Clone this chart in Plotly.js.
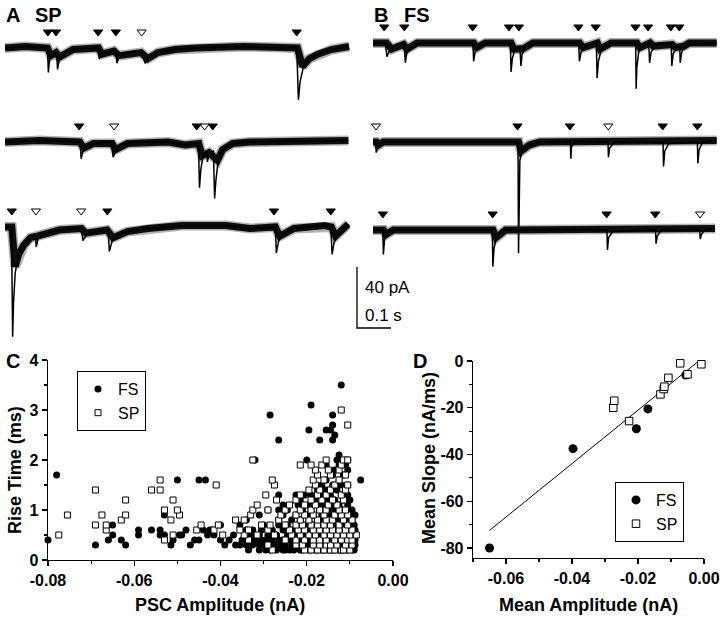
<!DOCTYPE html>
<html>
<head>
<meta charset="utf-8">
<script src="https://cdn.plot.ly/plotly-3.0.1.min.js"></script>
<style>html,body{margin:0;padding:0;background:#fff}#chart{width:720px;height:618px}</style>
</head>
<body>
<div id="chart"></div>
<script>
// ---------------- DATA ----------------
// Panel A (SP) and B (FS) current traces: [time ms, current pA]
const traceA1 = [[0,0],[60,1],[122,0],[125,0],[127.5,-16],[131,-8],[137,-5],[145,-4],[152,-3],[154.5,-14],[160,-7],[175,-3],[200,-1],[240,0],[272,0],[274,1],[277,-7],[285,-4],[310,-2],[326,-1],[329,-10],[336,-5],[360,-3],[395,-2],[403,-4],[412,-10],[425,-6],[450,-3],[490,-1],[560,0],[700,1],[800,0],[858,0],[863,-34],[868,-22],[878,-12],[895,-7],[920,-4],[960,-1],[1012,1]];
const traceA2 = [[0,0],[100,1],[218,0],[221,0],[224,-11],[230,-5],[245,-2],[290,0],[313,0],[318,-10],[325,-6],[340,-2],[380,0],[480,0],[530,-2],[569,-1],[572,-30],[576,-18],[582,-10],[590,-6],[593,-6],[595.5,-13],[599,-9],[604,-7],[613,-6],[616.5,-37],[620,-26],[626,-14],[636,-6],[660,-2],[700,0],[1010,1]];
const traceA3 = [[0,0],[19,0],[22.5,-72],[25,-50],[30,-30],[40,-18],[55,-12],[75,-7],[89,-5],[92,-13],[98,-7],[120,-4],[160,-2],[200,-1],[225,-1],[229,-9],[240,-5],[270,-3],[303,-2],[307,-16],[315,-9],[330,-5],[360,-3],[420,-1],[520,1],[650,1],[720,-1],[795,0],[798,-17],[805,-9],[820,-4],[850,-1],[940,1],[958,1],[962,-18],[968,-10],[980,-5],[995,-1],[1010,2]];
const traceB1 = [[0,0],[36,0],[41,-9],[48,-5],[70,-1],[92,0],[95,-13],[99,-7],[110,-3],[140,0],[294,0],[296,-12],[300,-6],[312,-2],[340,0],[404,0],[406,-19],[410,-10],[418,-4],[432,-2],[435,-15],[439,-7],[450,-2],[480,0],[605,0],[607,-12],[612,-6],[625,-2],[650,0],[657,0],[659,-23],[663,-12],[672,-4],[700,0],[772.5,0],[774,-30],[776,-16],[782,-5],[800,0],[811,0],[813.5,-13],[818,-6],[830,-1],[870,0],[877,0],[879,-15],[883,-7],[895,-2],[902,-2],[903.5,-13],[908,-6],[920,-1],[1011,0]];
const traceB2 = [[0,0],[8,0],[9.5,-7],[14,-3],[25,0],[426.5,0],[428,-73],[429.5,-30],[432,-12],[440,-5],[460,-2],[490,0],[580.5,0],[581.8,-11],[584,-3],[595,0],[691,0],[692.5,-10],[696,-4],[710,0],[853,0],[854.5,-16],[858,-6],[870,-1],[954,0],[955.5,-14],[959,-5],[970,0],[1011,1]];
const traceB3 = [[0,0],[29,0],[30.5,-16],[34,-6],[45,-1],[70,0],[351,0],[352.5,-24],[356,-12],[364,-4],[380,0],[688,0],[689.5,-13],[693,-5],[705,-1],[831,0],[832.5,-9],[836,-4],[848,0],[961,0],[962.5,-6],[966,-3],[975,0],[1006,1]];

// slow baseline / noise band of each trace
const bandA1 = [[0,0],[60,1],[125,0],[135,-5],[150,-3],[160,-6],[200,-1],[240,0],[275,0],[285,-4],[320,-2],[335,-5],[400,-3],[420,-7],[450,-3],[500,-1],[560,0],[700,1],[860,0],[875,-12],[895,-7],[920,-4],[960,-1],[1012,1]];
const bandA2 = [[0,0],[100,1],[220,0],[232,-4],[260,-1],[315,-1],[325,-5],[360,-1],[480,0],[530,-2],[570,-1],[580,-9],[600,-7],[625,-12],[640,-5],[670,-1],[720,0],[1010,1]];
const bandA3 = [[0,0],[20,0],[30,-26],[40,-18],[55,-12],[75,-7],[95,-6],[120,-4],[160,-2],[225,-1],[238,-4],[300,-2],[318,-7],[360,-3],[420,-1],[520,1],[650,1],[720,-1],[795,0],[808,-6],[850,-1],[940,1],[960,0],[972,-6],[995,-1],[1010,2]];
const bandB1 = [[0,0],[40,0],[55,-4],[90,-1],[100,-4],[130,0],[296,0],[305,-3],[330,0],[406,0],[414,-4],[440,-4],[470,0],[608,0],[618,-3],[660,0],[668,-4],[700,0],[776,0],[785,-3],[815,0],[825,-2],[880,-1],[890,-3],[915,-2],[930,0],[1011,0]];
const bandB2 = [[0,0],[10,0],[16,-2],[30,0],[428,0],[436,-6],[460,-2],[490,0],[1011,1]];
const bandB3 = [[0,0],[31,0],[38,-3],[60,0],[353,0],[362,-5],[390,0],[1006,1]];

// event markers (time ms) and whether open (1) or filled (0)
const marksA1 = [126,150,274,326,402,858];        const openA1 = [0,0,0,0,1,0];
const marksA2 = [218,321,564,587,611];            const openA2 = [0,1,0,1,0];
const marksA3 = [20,91,224,301,791,958];          const openA3 = [0,1,1,0,0,0];
const marksB1 = [33,92,293,400,429,604,655,772,809,876,901]; const openB1 = [0,0,0,0,0,0,0,0,0,0,0];
const marksB2 = [9,425,579,692,852,954];          const openB2 = [1,0,0,1,0,0];
const marksB3 = [29,352,687,830,962];             const openB3 = [0,0,0,0,1];

// scale bar: 40 pA, 0.1 s
const scaleT = [0,0,100];
const scaleI = [40,0,0];

// Panel C: rise time (ms) vs PSC amplitude (nA), grouped by rise time
const fsRows = [
 [0.2,[-0.0335,-0.031,-0.0295,-0.0285,-0.027,-0.0255,-0.025,-0.024,-0.023,-0.0215,-0.021,-0.0195,-0.019,-0.018,-0.0175,-0.0165,-0.016,-0.015,-0.0145,-0.0135,-0.0125,-0.012,-0.011,-0.0105,-0.0095,-0.009]],
 [0.3,[-0.069,-0.062,-0.0515,-0.047,-0.039,-0.0365,-0.0355,-0.034,-0.0325,-0.031,-0.030,-0.0285,-0.0275,-0.026,-0.025,-0.0235,-0.0225,-0.021,-0.0205,-0.0195,-0.018,-0.017,-0.016,-0.015,-0.014,-0.0125,-0.0115,-0.0105,-0.0095,-0.0088]],
 [0.4,[-0.080,-0.066,-0.063,-0.051,-0.046,-0.045,-0.040,-0.038,-0.035,-0.0335,-0.032,-0.0305,-0.0295,-0.028,-0.0265,-0.0255,-0.024,-0.023,-0.022,-0.0205,-0.0195,-0.0185,-0.0175,-0.016,-0.015,-0.0135,-0.0125,-0.011,-0.0098,-0.0088]],
 [0.5,[-0.065,-0.059,-0.054,-0.053,-0.0495,-0.049,-0.043,-0.0415,-0.037,-0.033,-0.031,-0.029,-0.027,-0.0245,-0.022,-0.021,-0.0195,-0.0175,-0.0165,-0.015,-0.0135,-0.012,-0.0105,-0.009]],
 [0.6,[-0.059,-0.056,-0.054,-0.048,-0.044,-0.0425,-0.042,-0.034,-0.0325,-0.0305,-0.028,-0.0255,-0.0235,-0.0215,-0.0195,-0.018,-0.0165,-0.0145,-0.013,-0.0115,-0.010,-0.0088]],
 [0.7,[-0.065,-0.040,-0.0355,-0.030,-0.0265,-0.0245,-0.022,-0.020,-0.0185,-0.017,-0.015,-0.0135,-0.012,-0.0105,-0.009]],
 [0.8,[-0.034,-0.0265,-0.0235,-0.0215,-0.0195,-0.0175,-0.016,-0.014,-0.0125,-0.011,-0.0095]],
 [0.9,[-0.053,-0.031,-0.0255,-0.0225,-0.020,-0.0185,-0.0165,-0.0145,-0.013,-0.0115,-0.010,-0.0088]],
 [1.0,[-0.029,-0.0265,-0.0245,-0.021,-0.019,-0.017,-0.015,-0.0135,-0.0115,-0.0095]],
 [1.1,[-0.0255,-0.022,-0.0195,-0.0165,-0.0145,-0.0125,-0.0105]],
 [1.2,[-0.0215,-0.018,-0.0155,-0.0135,-0.0115,-0.010]],
 [1.3,[-0.0265,-0.0225,-0.0205,-0.019,-0.0165,-0.0145,-0.012,-0.0105]],
 [1.4,[-0.0175,-0.0155,-0.013,-0.011]],
 [1.5,[-0.0165,-0.014,-0.012,-0.0105]],
 [1.6,[-0.050,-0.045,-0.0435,-0.0155,-0.0125,-0.0075]],
 [1.7,[-0.078,-0.014,-0.0115]],
 [1.8,[-0.0135,-0.0105]],
 [1.9,[-0.0155,-0.0125,-0.011]],
 [2.0,[-0.032,-0.020,-0.013,-0.0105]],
 [2.1,[-0.0125]],
 [2.4,[-0.0265,-0.017,-0.014]],
 [2.5,[-0.0135]],
 [2.6,[-0.0195,-0.0155,-0.0145]],
 [2.7,[-0.014]],
 [2.9,[-0.0285,-0.014]],
 [3.1,[-0.019]],
 [3.5,[-0.012]]
];
const spRows = [
 [0.2,[-0.028,-0.0205,-0.019,-0.0175,-0.016,-0.0145,-0.0135,-0.012,-0.0115,-0.010]],
 [0.3,[-0.029,-0.0225,-0.021,-0.0185,-0.017,-0.0155,-0.0145,-0.013,-0.011,-0.0095]],
 [0.4,[-0.053,-0.0335,-0.025,-0.0225,-0.0205,-0.0185,-0.017,-0.0155,-0.0135,-0.012,-0.0105,-0.0095]],
 [0.5,[-0.0775,-0.051,-0.0395,-0.0345,-0.0315,-0.0275,-0.0235,-0.0215,-0.0195,-0.018,-0.016,-0.0145,-0.013,-0.0115,-0.010,-0.0085]],
 [0.6,[-0.0665,-0.0455,-0.0415,-0.0355,-0.0335,-0.029,-0.024,-0.022,-0.0205,-0.0185,-0.017,-0.0155,-0.014,-0.0125,-0.011,-0.0095]],
 [0.7,[-0.069,-0.0665,-0.0445,-0.0405,-0.0305,-0.0285,-0.025,-0.0225,-0.021,-0.019,-0.0175,-0.016,-0.0145,-0.0125,-0.0105]],
 [0.8,[-0.063,-0.0515,-0.0365,-0.0345,-0.0265,-0.0215,-0.0195,-0.0175,-0.0155,-0.014,-0.0115,-0.0095]],
 [0.9,[-0.0755,-0.0675,-0.062,-0.0495,-0.033,-0.026,-0.0225,-0.0205,-0.0185,-0.016,-0.0135,-0.012,-0.0105]],
 [1.0,[-0.053,-0.050,-0.0325,-0.029,-0.025,-0.0215,-0.019,-0.017,-0.0155,-0.0125,-0.011]],
 [1.1,[-0.0315,-0.024,-0.0205,-0.018,-0.015,-0.013]],
 [1.2,[-0.062,-0.051,-0.027,-0.0225,-0.019,-0.0165,-0.014,-0.0115]],
 [1.3,[-0.0295,-0.0215,-0.0175,-0.0155,-0.012]],
 [1.4,[-0.069,-0.056,-0.054,-0.0195,-0.017,-0.0145,-0.011]],
 [1.5,[-0.041,-0.0275,-0.018,-0.0135,-0.0105]],
 [1.6,[-0.054,-0.028,-0.0185,-0.016,-0.0125]],
 [1.7,[-0.0175,-0.0145,-0.011]],
 [1.8,[-0.018,-0.015,-0.0125]],
 [1.9,[-0.0215,-0.019,-0.0165,-0.012]],
 [2.0,[-0.0325,-0.0155,-0.0115,-0.0105]],
 [2.7,[-0.0105]],
 [3.0,[-0.012]]
];
const cTickX = [-0.08,-0.06,-0.04,-0.02,0];
const cTickXText = ['-0.08','-0.06','-0.04','-0.02','0.00'];
const cTickY = [0,1,2,3,4];
const cTickYText = ['0','1','2','3','4'];

// Panel D: mean slope (nA/ms) vs mean amplitude (nA)
const fsAmpD = [-0.065,-0.0397,-0.0205,-0.017,-0.0055];
const fsSlopeD = [-80,-37.5,-29,-20.5,-6];
const spAmpD = [-0.0275,-0.0272,-0.0227,-0.0132,-0.0122,-0.012,-0.0108,-0.0072,-0.005,-0.0008];
const spSlopeD = [-20,-17,-25.7,-14.3,-12,-11,-7.2,-1,-5.7,-1.4];
const fitAmp = [-0.065,-0.001];
const fitSlope = [-72.5,0.7];
const dTickX = [-0.06,-0.04,-0.02,0];
const dTickXText = ['-0.06','-0.04','-0.02','0.00'];
const dTickY = [0,-20,-40,-60,-80];
const dTickYText = ['0','-20','-40','-60','-80'];

// ---------------- LAYOUT HELPERS ----------------
const W = 720, H = 618;
const FONT = 'Liberation Sans, Arial, Helvetica, sans-serif';
const xd = (a,b) => [a/W, b/W];
const yd = (top,bottom) => [1-bottom/H, 1-top/H];
const pxPerMs = 0.34, pxPerPA = 1.525, markLevel = 10.5;

const traces = [];
const layout = {
  width: W, height: H,
  margin: {l:0,r:0,t:0,b:0},
  paper_bgcolor: '#ffffff', plot_bgcolor: 'rgba(0,0,0,0)',
  font: {family: FONT, color: '#000'},
  showlegend: true,
  annotations: []
};

// ---- trace panels ----
const rows = [
  {data:traceA1, band:bandA1, marks:marksA1, open:openA1, x0:5,   yb:48},
  {data:traceA2, band:bandA2, marks:marksA2, open:openA2, x0:5,   yb:142},
  {data:traceA3, band:bandA3, marks:marksA3, open:openA3, x0:5,   yb:227},
  {data:traceB1, band:bandB1, marks:marksB1, open:openB1, x0:373, yb:43},
  {data:traceB2, band:bandB2, marks:marksB2, open:openB2, x0:373, yb:142},
  {data:traceB3, band:bandB3, marks:marksB3, open:openB3, x0:373, yb:230}
];
rows.forEach((r, k) => {
  const n = k + 3;
  const xa = 'x' + n, ya = 'y' + n;
  const tRange = 1015;
  layout['xaxis' + n] = {visible:false, range:[0,tRange], domain: xd(r.x0, r.x0 + tRange*pxPerMs), anchor: ya, fixedrange:true};
  layout['yaxis' + n] = {visible:false, range:[-120/pxPerPA, 40/pxPerPA], domain: yd(r.yb-40, r.yb+120), anchor: xa, fixedrange:true};
  const bx = r.band.map(p=>p[0]), by = r.band.map(p=>p[1]);
  traces.push({x:bx, y:by, xaxis:xa, yaxis:ya, mode:'lines', line:{color:'rgba(0,0,0,0.3)', width:10}, showlegend:false, hoverinfo:'skip'});
  traces.push({x:bx, y:by, xaxis:xa, yaxis:ya, mode:'lines', line:{color:'#0d0d0d', width:7}, showlegend:false, hoverinfo:'skip'});
  traces.push({x:r.data.map(p=>p[0]), y:r.data.map(p=>p[1]), xaxis:xa, yaxis:ya, mode:'lines',
    line:{color:'#000', width:1.5}, showlegend:false, hoverinfo:'skip'});
  traces.push({x:r.marks, y:r.marks.map(()=>markLevel), xaxis:xa, yaxis:ya, mode:'markers', cliponaxis:false,
    marker:{symbol:r.open.map(o=>o?'triangle-down-open':'triangle-down'), size:8, color:'#000', line:{color:'#000', width:1}},
    showlegend:false, hoverinfo:'skip'});
});

// scale bar subplot
layout.xaxis9 = {visible:false, range:[-7/pxPerMs, 43/pxPerMs], domain: xd(350,400), anchor:'y9', fixedrange:true};
layout.yaxis9 = {visible:false, range:[-7/pxPerPA, 68/pxPerPA], domain: yd(260,335), anchor:'x9', fixedrange:true};
traces.push({x:scaleT, y:scaleI, xaxis:'x9', yaxis:'y9', mode:'lines', line:{color:'#000', width:1.3}, showlegend:false, hoverinfo:'skip'});

// ---- axes style ----
function axis(extra) {
  return Object.assign({
    showline:true, linecolor:'#000', linewidth:1.3, mirror:false,
    ticks:'outside', ticklen:5, tickwidth:1.3, tickcolor:'#000',
    showgrid:false, zeroline:false, fixedrange:true,
    tickfont:{family:FONT, size:16, weight:700, color:'#000'},
    tickmode:'array'
  }, extra);
}
layout.xaxis = axis({range:[-0.08,0], domain:xd(48,393), anchor:'y', tickvals:cTickX, ticktext:cTickXText,
  minor:{tickmode:'array', tickvals:[-0.07,-0.05,-0.03,-0.01], ticks:'outside', ticklen:3, tickwidth:1.2, tickcolor:'#000'}});
layout.yaxis = axis({range:[0,4], domain:yd(360,560), anchor:'x', tickvals:cTickY, ticktext:cTickYText,
  minor:{tickmode:'array', tickvals:[0.5,1.5,2.5,3.5], ticks:'outside', ticklen:3, tickwidth:1.2, tickcolor:'#000'}});
layout.xaxis2 = axis({range:[-0.07,0], domain:xd(473,704), anchor:'y2', tickvals:dTickX, ticktext:dTickXText,
  minor:{tickmode:'array', tickvals:[-0.07,-0.05,-0.03,-0.01], ticks:'outside', ticklen:3, tickwidth:1.2, tickcolor:'#000'}});
layout.yaxis2 = axis({range:[-84.3,0], domain:yd(361,558), anchor:'x2', tickvals:dTickY, ticktext:dTickYText,
  minor:{tickmode:'array', tickvals:[-10,-30,-50,-70], ticks:'outside', ticklen:3, tickwidth:1.2, tickcolor:'#000'}});

// ---- panel C data ----
const flat = rows2 => { const xs=[], ys=[]; rows2.forEach(([rt, amps]) => amps.forEach(a => { xs.push(a); ys.push(rt); })); return [xs, ys]; };
const [fsX, fsY] = flat(fsRows);
const [spX, spY] = flat(spRows);
traces.push({x:fsX, y:fsY, xaxis:'x', yaxis:'y', mode:'markers', name:'FS', legend:'legend', cliponaxis:false,
  marker:{symbol:'circle', size:7, color:'#000', line:{width:0}}, hoverinfo:'skip'});
traces.push({x:spX, y:spY, xaxis:'x', yaxis:'y', mode:'markers', name:'SP', legend:'legend', cliponaxis:false,
  marker:{symbol:'square', size:6, color:'#fff', line:{color:'#000', width:1}}, hoverinfo:'skip'});

// ---- panel D data ----
traces.push({x:fitAmp, y:fitSlope, xaxis:'x2', yaxis:'y2', mode:'lines', line:{color:'#000', width:1}, showlegend:false, hoverinfo:'skip'});
traces.push({x:fsAmpD, y:fsSlopeD, xaxis:'x2', yaxis:'y2', mode:'markers', name:'FS', legend:'legend2', cliponaxis:false,
  marker:{symbol:'circle', size:9, color:'#000'}, hoverinfo:'skip'});
traces.push({x:spAmpD, y:spSlopeD, xaxis:'x2', yaxis:'y2', mode:'markers', name:'SP', legend:'legend2', cliponaxis:false,
  marker:{symbol:'square', size:7.5, color:'#fff', line:{color:'#000', width:1}}, hoverinfo:'skip'});

// ---- legends ----
const legendBase = {xanchor:'left', yanchor:'top', bordercolor:'#000', borderwidth:1, bgcolor:'#fff',
  font:{family:FONT, size:16, color:'#000'}, itemwidth:30, tracegroupgap:0, orientation:'v'};
layout.legend = Object.assign({x:77/W, y:1-371/H}, legendBase);
layout.legend2 = Object.assign({x:615/W, y:1-482/H}, legendBase);

// ---- text ----
function txt(text, px, py, opts) {
  layout.annotations.push(Object.assign({text, x:px/W, y:1-py/H, xref:'paper', yref:'paper', showarrow:false,
    xanchor:'center', yanchor:'middle', font:{family:FONT, size:18, weight:700, color:'#000'}}, opts || {}));
}
const big = {family:FONT, size:20, weight:700, color:'#000'};
txt('A', 4, 15, {xanchor:'left', font:big});
txt('SP', 49, 15, {font:big});
txt('B', 372, 15, {xanchor:'left', font:big});
txt('FS', 417, 15, {font:big});
txt('C', 4, 361, {xanchor:'left', font:big});
txt('D', 411, 361, {xanchor:'left', font:big});
txt('40 pA', 363, 287, {xanchor:'left', font:{family:FONT, size:17, weight:400, color:'#000'}});
txt('0.1 s', 363, 315, {xanchor:'left', font:{family:FONT, size:17, weight:400, color:'#000'}});
txt('Rise Time (ms)', 15, 470, {textangle:-90});
txt('PSC Amplitude (nA)', 220, 605);
txt('Mean Slope (nA/ms)', 429, 458, {textangle:-90});
txt('Mean Amplitude (nA)', 588, 605);

Plotly.newPlot('chart', traces, layout, {staticPlot:true, displayModeBar:false});
</script>
</body>
</html>
